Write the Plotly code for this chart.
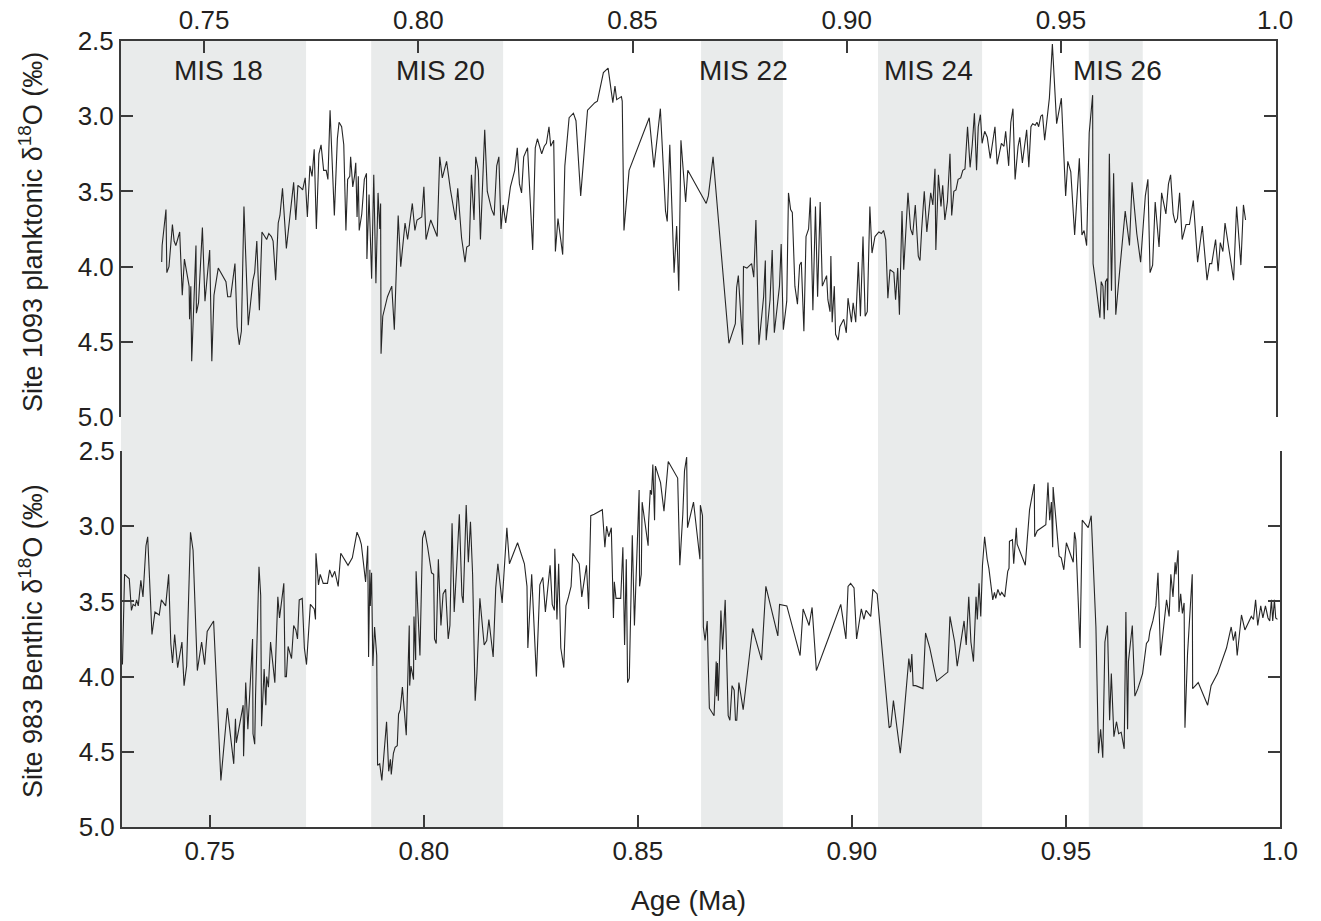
import plotly.graph_objects as go

# ---------------- data ----------------
# Site 1093 planktonic d18O (top panel)
top_age = [
    0.7401,0.7402,0.7411,0.7413,0.7418,0.7426,0.7430,0.7434,0.7443,0.7449,
    0.7454,0.7465,0.7466,0.7469,0.7471,0.7477,0.7481,0.7482,0.7487,0.7496,
    0.7502,0.7513,0.7518,0.7523,0.7533,0.7551,0.7555,0.7562,0.7572,0.7577,
    0.7582,0.7587,0.7593,0.7603,0.7614,0.7618,0.7623,0.7629,0.7635,0.7646,
    0.7651,0.7657,0.7661,0.7667,0.7673,0.7677,0.7683,0.7692,0.7698,0.7709,
    0.7714,0.7719,0.7727,0.7730,0.7736,0.7741,0.7747,0.7752,0.7757,0.7762,
    0.7768,0.7773,0.7779,0.7785,0.7789,0.7794,0.7804,0.7811,0.7815,0.7821,
    0.7826,0.7831,0.7835,0.7840,0.7842,0.7847,0.7851,0.7854,0.7857,0.7860,
    0.7862,
    0.7868,0.7874,0.7879,0.7880,0.7885,0.7891,0.7896,0.7901,0.7906,0.7910,
    0.7912,0.7913,0.7917,0.7928,0.7938,0.7944,0.7953,0.7959,0.7969,0.7975,
    0.7986,0.7992,0.7997,0.8008,0.8013,0.8018,0.8029,0.8044,0.8050,0.8056,
    0.8066,0.8075,0.8087,0.8092,0.8101,0.8109,0.8113,0.8119,0.8124,0.8130,
    0.8134,0.8140,0.8145,0.8155,0.8161,0.8171,0.8177,0.8183,0.8188,0.8193,
    0.8198,0.8204,0.8215,0.8225,0.8231,0.8236,0.8241,0.8246,0.8255,0.8267,
    0.8273,0.8278,0.8288,0.8294,0.8299,0.8305,0.8309,0.8316,0.8320,0.8326,
    0.8337,0.8342,0.8352,0.8362,0.8368,0.8379,0.8395,0.8412,
    0.8418,0.8432,0.8443,0.8454,0.8459,0.8463,0.8474,0.8476,0.8480,0.8492,
    0.8539,0.8550,0.8565,0.8577,0.8581,0.8587,0.8597,0.8603,0.8608,0.8613,
    0.8624,0.8629,0.8672,0.8677,0.8688,0.8725,0.8740,0.8743,0.8747,0.8757,
    0.8759,0.8767,0.8778,0.8783,0.8788,0.8795,0.8806,0.8810,0.8812,0.8821,
    0.8826,0.8831,0.8843,0.8847,0.8852,0.8860,0.8864,0.8869,0.8873,0.8879,
    0.8885,0.8890,0.8894,0.8900,0.8905,0.8911,0.8915,0.8921,0.8927,0.8932,
    0.8938,0.8943,0.8953,0.8956,0.8961,
    0.8963,0.8966,0.8971,0.8974,0.8980,0.8984,0.8993,0.8999,0.9003,0.9011,
    0.9015,0.9021,0.9027,0.9032,0.9038,0.9043,0.9048,0.9054,0.9059,0.9066,
    0.9075,0.9081,0.9086,0.9091,0.9096,0.9101,0.9110,0.9114,0.9119,0.9123,
    0.9129,0.9133,0.9143,0.9149,0.9154,0.9160,0.9167,0.9171,0.9175,0.9181,
    0.9187,0.9196,0.9201,0.9206,0.9208,0.9214,0.9220,0.9224,0.9229,0.9235,
    0.9241,0.9245,0.9250,0.9255,0.9260,0.9266,0.9271,0.9276,0.9282,0.9288,
    0.9293,0.9298,0.9303,0.9307,0.9312,0.9316,0.9322,0.9328,0.9335,0.9340,
    0.9346,0.9351,0.9356,0.9361,0.9367,0.9371,0.9378,0.9383,0.9388,0.9393,
    0.9400,0.9404,0.9410,0.9416,0.9420,0.9425,0.9430,0.9434,0.9440,0.9444,
    0.9448,0.9453,0.9457,0.9462,0.9469,0.9473,0.9480,0.9490,0.9501,
    0.9506,0.9511,0.9516,0.9523,0.9532,0.9543,0.9549,0.9554,0.9560,0.9566,
    0.9574,0.9575,0.9582,0.9591,0.9594,0.9598,0.9601,0.9604,0.9608,0.9609,
    0.9613,0.9618,0.9623,0.9628,0.9638,0.9650,0.9660,0.9666,0.9677,0.9686,
    0.9697,0.9703,0.9708,0.9714,0.9720,0.9729,0.9735,0.9745,0.9751,0.9756,
    0.9762,0.9767,0.9772,0.9777,0.9783,0.9792,0.9800,0.9809,0.9819,0.9830,
    0.9841,0.9847,0.9852,0.9861,0.9867,0.9872,0.9878,0.9883,0.9903,0.9910,
    0.9920,0.9926,0.9931,
]
top_d18o = [
    3.97,3.86,3.62,4.04,4.00,3.72,3.83,3.86,3.77,4.19,
    3.95,4.13,4.35,4.13,4.63,4.13,3.86,4.31,4.24,3.74,
    4.23,3.89,4.63,4.19,4.01,4.10,4.20,4.20,3.98,4.40,
    4.52,4.43,3.60,4.39,4.09,4.04,3.83,4.29,3.77,3.82,
    3.78,3.80,3.83,4.09,3.71,3.66,3.48,3.88,3.71,3.44,
    3.69,3.46,3.48,3.49,3.41,3.67,3.33,3.40,3.22,3.75,
    3.25,3.19,3.36,3.36,3.42,2.96,3.66,3.15,3.04,3.07,
    3.19,3.76,3.42,3.40,3.27,3.47,3.40,3.31,3.67,3.40,
    3.76,
    3.65,3.42,3.38,3.95,3.52,4.08,3.39,4.11,3.51,3.75,
    3.58,4.58,4.33,4.20,4.13,4.42,3.66,4.00,3.71,3.82,
    3.58,3.76,3.69,3.67,3.47,3.82,3.69,3.80,3.27,3.41,
    3.30,3.49,3.69,3.48,3.81,3.97,3.87,3.86,3.39,3.69,
    3.27,3.36,3.82,3.09,3.50,3.62,3.66,3.33,3.27,3.75,
    3.59,3.71,3.47,3.36,3.21,3.45,3.51,3.27,3.21,3.89,
    3.21,3.15,3.25,3.20,3.18,3.07,3.20,3.16,3.90,3.68,
    3.92,3.33,3.01,2.98,3.03,3.53,2.96,2.91,
    2.90,2.71,2.68,2.91,2.80,2.89,2.87,2.90,3.76,3.36,
    3.01,3.34,2.95,3.63,3.70,3.19,4.04,3.73,4.16,3.16,
    3.57,3.36,3.58,3.53,3.27,4.51,4.38,4.14,4.06,4.52,
    4.00,4.01,3.98,4.07,3.69,4.52,4.20,3.96,4.49,4.22,
    3.89,4.44,4.13,3.85,4.42,4.23,3.51,3.62,3.64,4.13,
    4.25,3.99,3.97,4.43,3.80,3.75,3.54,4.29,3.60,4.20,
    3.57,4.13,4.06,4.22,4.30,
    3.93,4.37,4.13,4.45,4.49,4.40,4.35,4.44,4.21,4.37,
    4.24,4.37,3.97,4.33,3.80,4.33,4.30,3.60,3.91,3.80,
    3.77,3.78,3.76,3.82,4.21,4.02,4.04,4.22,4.01,4.32,
    3.63,4.02,3.51,3.75,3.79,3.59,3.93,3.96,3.75,3.50,
    3.77,3.51,3.59,3.35,3.89,3.39,3.60,3.46,3.69,3.57,
    3.25,3.66,3.50,3.49,3.42,3.41,3.36,3.35,3.07,3.34,
    3.19,2.98,3.36,3.07,2.99,3.18,3.10,3.14,3.28,3.18,
    3.07,3.32,3.25,3.18,3.20,3.10,3.33,3.04,2.95,3.42,
    3.20,3.14,3.31,3.16,3.09,3.34,3.07,3.05,3.06,3.04,
    3.07,3.00,2.99,3.16,2.97,2.88,2.52,3.05,2.88,
    3.16,3.53,3.30,3.37,3.79,3.28,3.79,3.76,3.86,3.11,
    2.86,3.98,4.13,4.34,4.10,4.13,4.35,4.10,4.08,4.29,
    3.25,4.16,3.38,4.32,4.00,3.63,3.86,3.44,3.78,3.97,
    3.53,3.42,4.04,3.99,3.57,3.87,3.51,3.65,3.45,3.39,
    3.65,3.71,3.68,3.51,3.82,3.72,3.72,3.56,3.97,3.73,
    4.09,3.98,3.98,3.82,4.03,3.84,3.90,3.71,4.09,3.60,
    3.99,3.59,3.69,
]

# Site 983 benthic d18O (bottom panel)
bot_age = [
    0.7296,0.7301,0.7312,0.7317,0.7321,0.7326,0.7329,0.7333,0.7339,0.7344,
    0.7351,0.7355,0.7365,0.7372,0.7382,0.7387,0.7397,0.7404,0.7409,0.7413,
    0.7418,0.7425,0.7435,0.7440,0.7446,0.7455,0.7461,0.7471,0.7481,0.7488,
    0.7494,0.7509,0.7526,0.7541,0.7556,0.7560,0.7562,0.7578,0.7579,0.7584,
    0.7589,0.7600,0.7601,0.7605,0.7607,0.7615,0.7619,0.7621,0.7627,0.7631,
    0.7633,0.7637,0.7642,0.7652,0.7659,0.7663,0.7673,0.7676,0.7679,0.7683,
    0.7691,0.7696,0.7701,0.7705,0.7709,0.7716,0.7721,0.7726,0.7735,0.7744,
    0.7747,0.7748,0.7754,0.7758,0.7765,0.7775,0.7780,0.7786,0.7792,0.7800,
    0.7806,0.7823,0.7833,0.7844,0.7850,
    0.7854,0.7864,0.7869,0.7871,0.7874,0.7875,0.7878,0.7881,0.7885,0.7890,
    0.7892,0.7897,0.7902,0.7913,0.7918,0.7922,0.7924,0.7929,0.7933,0.7938,
    0.7941,0.7945,0.7950,0.7959,0.7966,0.7967,0.7970,0.7976,0.7977,0.7981,
    0.7982,0.7991,0.7997,0.8002,0.8009,0.8018,0.8023,0.8025,0.8029,0.8034,
    0.8040,0.8045,0.8051,0.8057,0.8061,0.8066,0.8071,0.8077,0.8083,0.8089,
    0.8092,0.8099,0.8104,0.8109,0.8114,0.8120,0.8124,0.8131,0.8137,0.8141,
    0.8147,0.8152,0.8162,0.8168,0.8173,0.8183,0.8194,0.8200,0.8219,0.8235,
    0.8241,0.8243,0.8252,0.8263,0.8271,0.8278,0.8284,0.8295,0.8300,0.8305,
    0.8306,0.8311,0.8315,0.8320,0.8327,0.8332,0.8338,0.8344,0.8348,0.8363,
    0.8369,0.8380,0.8385,0.8390,0.8398,
    0.8417,0.8423,0.8427,0.8432,0.8438,0.8443,0.8445,0.8449,0.8460,0.8465,
    0.8469,0.8473,0.8476,0.8480,0.8487,0.8492,0.8503,0.8504,0.8508,0.8510,
    0.8518,0.8524,0.8525,0.8529,0.8532,0.8535,0.8539,0.8541,0.8553,0.8561,
    0.8571,0.8593,0.8598,0.8605,0.8609,0.8614,0.8616,0.8630,0.8645,0.8646,
    0.8651,0.8653,0.8657,0.8662,0.8667,0.8678,0.8683,0.8684,0.8686,0.8688,
    0.8694,0.8698,0.8704,0.8711,0.8715,0.8720,0.8725,0.8728,0.8731,0.8736,
    0.8746,0.8768,0.8789,0.8799,0.8827,0.8831,0.8848,0.8879,0.8886,0.8900,
    0.8907,0.8917,0.8947,
    0.8974,0.8986,0.8991,0.8997,0.9005,0.9011,0.9022,0.9028,0.9033,0.9044,
    0.9049,0.9059,0.9087,0.9091,0.9097,0.9113,0.9120,0.9133,0.9137,0.9140,
    0.9143,0.9149,0.9166,0.9172,0.9182,0.9198,0.9224,0.9229,0.9240,0.9246,
    0.9262,0.9267,0.9273,0.9278,0.9284,0.9290,0.9293,0.9297,0.9301,0.9305,
    0.9310,0.9316,0.9320,0.9329,0.9333,0.9336,0.9341,0.9346,0.9350,0.9357,
    0.9364,0.9367,0.9368,0.9375,0.9378,0.9384,0.9386,0.9405,0.9415,0.9426,
    0.9427,0.9433,0.9453,0.9458,0.9462,0.9466,0.9469,0.9470,0.9475,0.9480,
    0.9484,0.9489,0.9495,
    0.9501,0.9507,0.9517,0.9520,0.9523,0.9533,0.9538,0.9552,0.9559,0.9570,
    0.9576,0.9581,0.9586,0.9591,0.9597,0.9602,0.9606,0.9612,0.9618,0.9623,
    0.9629,0.9636,0.9640,0.9644,0.9646,0.9655,0.9661,0.9668,0.9679,0.9688,
    0.9693,0.9696,0.9703,0.9710,0.9715,0.9721,0.9725,0.9735,0.9741,0.9745,
    0.9750,0.9755,0.9757,0.9762,0.9764,0.9768,0.9772,0.9776,0.9778,0.9784,
    0.9795,0.9796,0.9809,0.9831,0.9839,0.9854,0.9875,0.9881,0.9886,0.9891,
    0.9896,0.9900,0.9910,0.9918,0.9927,0.9933,0.9938,0.9943,0.9948,0.9955,
    0.9960,0.9966,0.9972,0.9976,0.9980,0.9983,0.9987,0.9990,0.9994,
]
bot_d18o = [
    3.92,3.32,3.35,3.56,3.52,3.53,3.49,3.53,3.36,3.47,
    3.13,3.07,3.72,3.57,3.59,3.49,3.53,3.32,3.78,3.91,
    3.72,3.94,3.77,4.06,3.93,3.04,3.16,3.96,3.77,3.92,
    3.70,3.63,4.69,4.21,4.58,4.28,4.44,4.19,4.53,4.04,
    4.35,3.75,4.38,4.45,4.12,3.27,3.46,4.33,3.95,4.19,
    4.00,4.07,3.77,4.04,3.47,3.61,3.38,4.00,4.00,3.80,
    3.88,3.66,3.69,3.75,3.49,3.48,3.81,3.92,3.52,3.55,
    3.62,3.18,3.39,3.32,3.38,3.38,3.29,3.34,3.30,3.40,
    3.18,3.26,3.21,3.04,3.08,
    3.12,3.37,3.13,3.87,3.29,3.53,3.31,3.93,3.67,3.86,
    4.59,4.58,4.69,4.30,4.63,4.55,4.65,4.51,4.47,4.46,
    4.25,4.22,4.07,4.39,3.66,4.06,3.93,4.02,3.60,3.89,
    3.30,3.86,3.08,3.03,3.14,3.31,3.32,3.75,3.78,3.22,
    3.66,3.45,3.42,3.75,3.66,2.98,3.57,3.26,2.92,3.46,
    3.51,2.86,3.24,2.97,3.32,4.16,3.98,3.48,3.64,3.79,
    3.76,3.62,3.87,3.41,3.25,3.51,3.01,3.25,3.11,3.25,
    3.40,3.81,3.32,4.00,3.39,3.34,3.57,3.26,3.52,3.56,
    3.15,3.62,3.25,3.81,3.94,3.53,3.47,3.40,3.18,3.25,
    3.47,3.26,3.55,2.93,2.92,
    2.89,3.14,3.00,3.07,3.01,3.61,3.37,3.48,3.48,3.14,
    3.79,3.22,4.04,4.01,3.06,3.66,2.76,3.40,3.32,2.84,
    3.01,3.13,2.98,2.76,2.79,2.59,2.96,2.60,2.71,2.90,
    2.57,2.68,3.26,2.92,2.63,2.54,3.01,2.84,3.22,2.86,
    2.93,3.67,3.76,3.63,4.21,4.26,3.90,4.13,3.91,4.16,
    3.56,3.82,3.49,4.26,4.29,4.06,4.09,4.29,4.29,4.04,
    4.22,3.68,3.89,3.40,3.73,3.52,3.53,3.86,3.55,3.66,
    3.54,3.96,3.73,
    3.52,3.75,3.40,3.38,3.41,3.75,3.55,3.62,3.56,3.60,
    3.42,3.45,4.34,4.33,4.16,4.51,4.31,3.88,3.97,3.85,
    4.06,4.06,4.08,3.71,3.81,4.03,3.97,3.60,3.77,3.93,
    3.63,3.79,3.47,3.77,3.90,3.47,3.62,3.38,3.60,3.26,
    3.07,3.22,3.28,3.49,3.44,3.48,3.42,3.46,3.44,3.47,
    3.30,3.28,3.10,3.09,3.25,3.01,3.12,3.26,2.89,2.72,
    3.07,3.03,2.99,2.71,2.96,2.84,3.14,2.74,2.90,3.07,
    3.20,3.21,3.29,
    3.11,3.16,3.24,3.04,3.09,3.81,2.96,3.01,2.93,3.67,
    4.51,4.35,4.54,3.77,3.66,4.29,3.98,4.40,4.30,4.38,
    4.37,4.48,3.57,4.35,3.90,3.66,4.13,4.08,3.98,3.78,
    3.76,3.70,3.63,3.53,3.31,3.86,3.76,3.49,3.60,3.32,
    3.47,3.24,3.32,3.16,3.57,3.45,3.58,3.51,4.34,3.85,
    3.32,4.08,4.04,4.19,4.06,3.98,3.81,3.73,3.67,3.76,
    3.70,3.86,3.59,3.69,3.63,3.60,3.62,3.49,3.66,3.53,
    3.61,3.53,3.61,3.63,3.49,3.63,3.49,3.61,3.62,
]

# Marine isotope stage bands (age, Ma)
mis_names = ["MIS 18", "MIS 20", "MIS 22", "MIS 24", "MIS 26"]
mis_start = [0.7306, 0.7890, 0.8660, 0.9073, 0.9565]
mis_end = [0.7738, 0.8198, 0.8851, 0.9316, 0.9691]
mis_label_age = [0.7533, 0.8051, 0.8758, 0.9192, 0.9631]

x_tickvals = [0.75, 0.80, 0.85, 0.90, 0.95, 1.0]
x_ticktext = ["0.75", "0.80", "0.85", "0.90", "0.95", "1.0"]
y_tickvals = [2.5, 3.0, 3.5, 4.0, 4.5, 5.0]
y_ticktext = ["2.5", "3.0", "3.5", "4.0", "4.5", "5.0"]

# ---------------- styling ----------------
W, H = 1321, 921
FONT = "Liberation Sans, Arial, Helvetica, sans-serif"
AXC = "#3a3a3a"
TXT = "#231f20"
FS = 26
FS_TITLE = 28

def px_x(p):
    return p / W

def px_y(p):
    return 1 - p / H

fig = go.Figure()
fig.add_trace(go.Scatter(x=top_age, y=top_d18o, mode="lines", xaxis="x2", yaxis="y2",
                         line=dict(color="#262626", width=1.1), showlegend=False,
                         hoverinfo="skip"))
fig.add_trace(go.Scatter(x=bot_age, y=bot_d18o, mode="lines", xaxis="x", yaxis="y",
                         line=dict(color="#262626", width=1.1), showlegend=False,
                         hoverinfo="skip"))

common = dict(showline=True, linewidth=2, linecolor=AXC, ticks="inside", ticklen=12,
              tickwidth=2, tickcolor=AXC, showgrid=False, zeroline=False,
              tickfont=dict(family=FONT, size=FS, color=TXT), automargin=False)

fig.update_layout(
    width=W, height=H,
    margin=dict(l=0, r=0, t=0, b=0),
    paper_bgcolor="white", plot_bgcolor="rgba(0,0,0,0)",
    xaxis=dict(domain=[px_x(122), px_x(1280)], range=[0.7295, 1.0], anchor="y",
               side="bottom", tickvals=x_tickvals, ticktext=x_ticktext, **common),
    yaxis=dict(domain=[px_y(827), px_y(451)], range=[5.0, 2.5], anchor="x",
               mirror="ticks", tickvals=y_tickvals, ticktext=y_ticktext, **common),
    xaxis2=dict(domain=[px_x(121), px_x(1276)], range=[0.7306, 1.0002], anchor="y2",
                side="top", tickvals=x_tickvals, ticktext=x_ticktext, **common),
    yaxis2=dict(domain=[px_y(417), px_y(41)], range=[5.0, 2.5], anchor="x2",
                mirror="ticks", tickvals=y_tickvals, ticktext=y_ticktext, **common),
)

shapes = []
for s, e in zip(mis_start, mis_end):
    shapes.append(dict(type="rect", xref="x2", yref="paper", x0=s, x1=e,
                       y0=px_y(827), y1=px_y(41), fillcolor="#e9ebeb",
                       line=dict(width=0), layer="below"))
fig.update_layout(shapes=shapes)

ann = []
for name, a in zip(mis_names, mis_label_age):
    ann.append(dict(x=a, y=px_y(70), xref="x2", yref="paper", text=name,
                    showarrow=False, xanchor="center", yanchor="middle",
                    font=dict(family=FONT, size=28, color=TXT)))
ann.append(dict(x=px_x(31), y=px_y(232), xref="paper", yref="paper",
                text="Site 1093 planktonic δ<sup>18</sup>O (‰)", textangle=-90,
                showarrow=False, xanchor="center", yanchor="middle",
                font=dict(family=FONT, size=FS_TITLE - 1, color=TXT)))
ann.append(dict(x=px_x(31), y=px_y(641), xref="paper", yref="paper",
                text="Site 983 Benthic δ<sup>18</sup>O (‰)", textangle=-90,
                showarrow=False, xanchor="center", yanchor="middle",
                font=dict(family=FONT, size=FS_TITLE - 1, color=TXT)))
ann.append(dict(x=px_x(688), y=px_y(900), xref="paper", yref="paper",
                text="Age (Ma)", showarrow=False, xanchor="center", yanchor="middle",
                font=dict(family=FONT, size=FS_TITLE, color=TXT)))
fig.update_layout(annotations=ann)

fig.write_html("out.html")
